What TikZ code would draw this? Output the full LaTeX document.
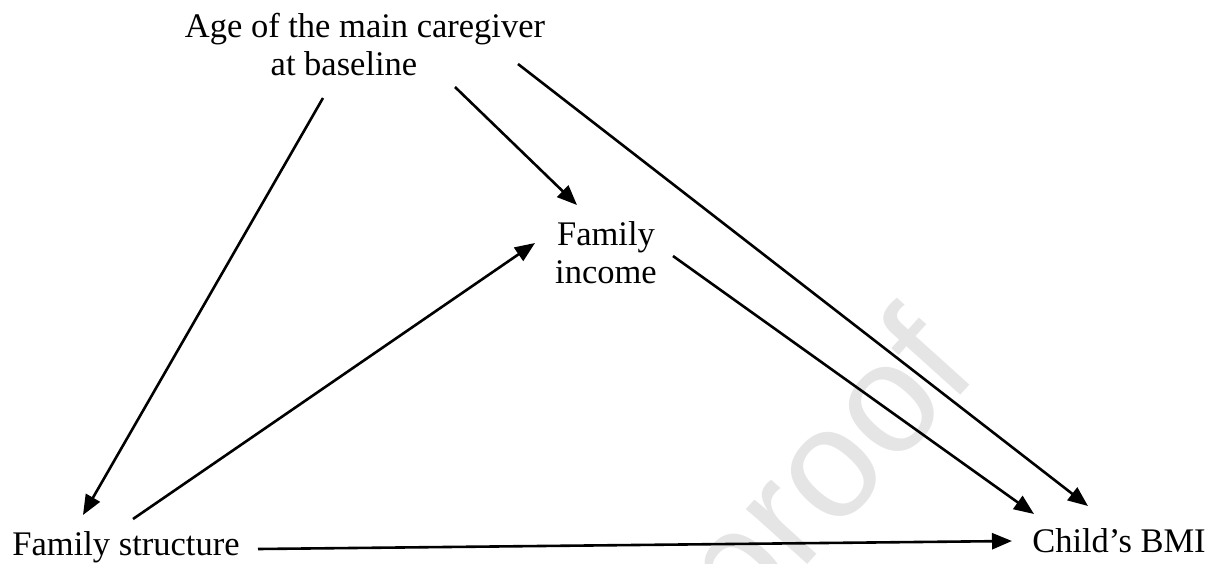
\documentclass[tikz,border=0pt]{standalone}
\usepackage{fontspec}
\setmainfont{Liberation Serif}
\newfontfamily\wmfont{Liberation Sans}
\usetikzlibrary{arrows.meta}
\begin{document}
\begin{tikzpicture}[x=0.5pt,y=-0.5pt,
  lbl/.style={font=\fontsize{17.25pt}{19pt}\selectfont, inner sep=0pt, anchor=base, align=center},
  arr/.style={-{Triangle[length=10pt,width=8pt]}, line width=1.3pt, black}]
\useasboundingbox (0,0) rectangle (1217,563);
\begin{scope}
\clip (0,0) rectangle (1217,563);
\node[font=\wmfont\fontsize{78pt}{78pt}\selectfont, text=black!10, rotate=48, inner sep=0pt] (wm) at (832,478) {proof};
\end{scope}
\node[lbl] (age) at (365,75) {Age of the main caregiver\\at baseline\hspace*{21pt}};
\node[lbl] (inc) at (606,283) {Family\\income};
\node[lbl] (fs) at (126,555) {Family structure};
\node[lbl] (bmi) at (1119,552) {Child’s BMI};
\coordinate (a1) at (323,98);  \coordinate (f1) at (83,515);
\coordinate (a2) at (455,87);  \coordinate (i1) at (577,205);
\coordinate (a3) at (518,64);  \coordinate (b1) at (1088,506);
\coordinate (f2) at (133,519); \coordinate (i2) at (535,243);
\coordinate (i3) at (673,256); \coordinate (b2) at (1034,514);
\coordinate (f3) at (258,549); \coordinate (b3) at (1012,541);
\draw[arr] (a1) -- (f1);
\draw[arr] (a2) -- (i1);
\draw[arr] (a3) -- (b1);
\draw[arr] (f2) -- (i2);
\draw[arr] (i3) -- (b2);
\draw[arr] (f3) -- (b3);
\end{tikzpicture}
\end{document}
